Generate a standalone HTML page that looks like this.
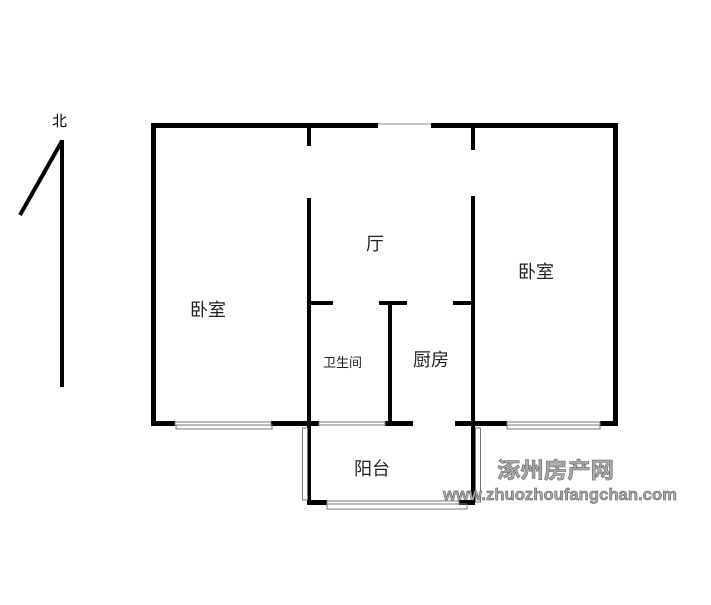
<!DOCTYPE html><html><head><style>body{margin:0;background:#fff}svg text{font-family:"Liberation Sans","Noto Sans CJK SC",sans-serif}</style></head><body>
<svg width="711" height="600" xmlns="http://www.w3.org/2000/svg">
<g fill="#000">
<rect x="151" y="123" width="227" height="5"/>
<rect x="431" y="123" width="186" height="5"/>
<rect x="151" y="123" width="5" height="303"/>
<rect x="613" y="123" width="5" height="303"/>
<rect x="307" y="123" width="4" height="23"/>
<rect x="307" y="198" width="4" height="305"/>
<rect x="471" y="123" width="4" height="27"/>
<rect x="471" y="196" width="4" height="309"/>
<rect x="311" y="301" width="22" height="4"/>
<rect x="379" y="301" width="28" height="4"/>
<rect x="388" y="301" width="4" height="124"/>
<rect x="453" y="301" width="18" height="4"/>
<rect x="151" y="421" width="24" height="5"/>
<rect x="271" y="421" width="48" height="5"/>
<rect x="385" y="421" width="28" height="5"/>
<rect x="455" y="421" width="52" height="5"/>
<rect x="600" y="421" width="18" height="5"/>
<rect x="307" y="500" width="20" height="5"/>
<rect x="459" y="500" width="16" height="5"/>
<rect x="60" y="140" width="4" height="247"/>
</g>
<line x1="378" y1="124" x2="431" y2="124" stroke="#888" stroke-width="1"/>
<g fill="none" stroke="#777" stroke-width="1">
<rect x="175" y="422" width="96" height="3"/>
<rect x="176" y="425" width="96" height="4"/>
<rect x="319" y="422" width="66" height="3"/>
<rect x="507" y="422" width="93" height="3"/>
<rect x="507" y="425" width="93" height="4"/>
<rect x="302.5" y="428" width="5" height="72"/>
<rect x="475.5" y="428" width="5" height="74"/>
<rect x="327" y="501" width="132" height="3"/>
<rect x="327" y="504" width="140" height="5"/>
</g>
<line x1="62" y1="141" x2="20" y2="215" stroke="#000" stroke-width="4"/>
<text x="52" y="126" font-size="15">北</text>
<g font-size="18" fill="#222">
<text x="190" y="316">卧室</text>
<text x="518" y="278">卧室</text>
<text x="366" y="250">厅</text>
<text x="413" y="366">厨房</text>
<text x="354" y="475">阳台</text>
</g>
<text x="323" y="367" font-size="13" fill="#222">卫生间</text>
<text x="497" y="478" font-size="22" font-weight="bold" fill="#aaa" stroke="#666" stroke-width="0.6" textLength="117" lengthAdjust="spacingAndGlyphs">涿州房产网</text>
<text x="443" y="500" font-size="17" font-weight="bold" fill="#aaa" stroke="#555" stroke-width="0.5" textLength="234" lengthAdjust="spacingAndGlyphs">www.zhuozhoufangchan.com</text>
</svg>
</body></html>
